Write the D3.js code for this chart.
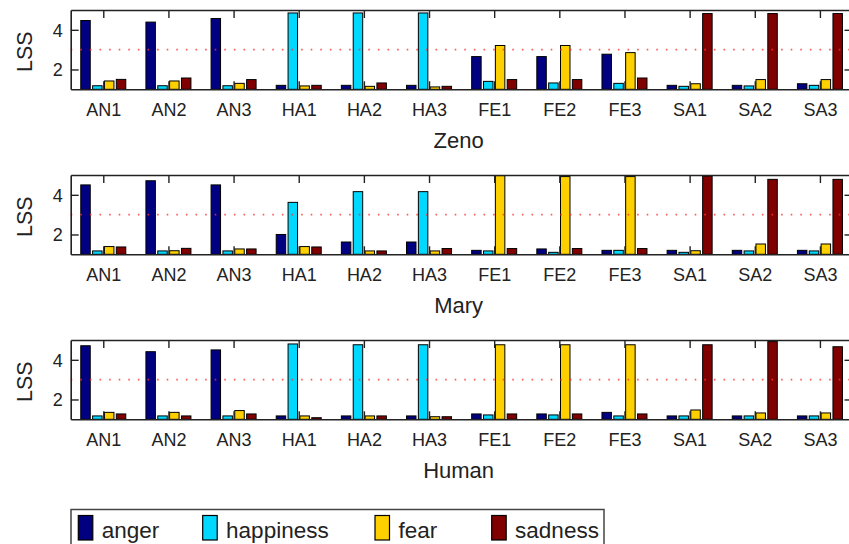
<!DOCTYPE html>
<html><head><meta charset="utf-8">
<script src="https://cdn.jsdelivr.net/npm/d3@7"></script>
<style>body{margin:0;background:#fff;overflow:hidden}svg{display:block}</style>
</head><body>
<svg id="chart" width="849" height="544"></svg>
<script>
const categories = ["AN1","AN2","AN3","HA1","HA2","HA3","FE1","FE2","FE3","SA1","SA2","SA3"];
const seriesNames = ["anger","happiness","fear","sadness"];
const seriesColors = ["#000080","#00D8FF","#FFD000","#800000"];
const panelNames = ["Zeno","Mary","Human"];
const yTicks = [2,4];
const threshold = 3;

const zenoAnger     = [4.47,4.39,4.57,1.20,1.20,1.20,2.65,2.65,2.77,1.20,1.20,1.28];
const zenoHappiness = [1.18,1.18,1.18,4.85,4.85,4.85,1.40,1.32,1.30,1.15,1.17,1.20];
const zenoFear      = [1.42,1.42,1.30,1.17,1.15,1.12,3.21,3.21,2.85,1.28,1.49,1.49];
const zenoSadness   = [1.50,1.57,1.49,1.20,1.32,1.15,1.49,1.49,1.57,4.82,4.82,4.82];

const maryAnger     = [4.50,4.71,4.50,2.00,1.62,1.62,1.20,1.27,1.20,1.20,1.20,1.20];
const maryHappiness = [1.17,1.17,1.17,3.62,4.16,4.16,1.17,1.10,1.20,1.10,1.17,1.17];
const maryFear      = [1.39,1.18,1.27,1.39,1.17,1.17,4.97,4.92,4.92,1.18,1.52,1.52];
const marySadness   = [1.37,1.30,1.27,1.37,1.17,1.29,1.29,1.29,1.29,4.95,4.78,4.78];

const humanAnger     = [4.71,4.41,4.50,1.17,1.17,1.17,1.27,1.27,1.35,1.17,1.17,1.17];
const humanHappiness = [1.17,1.17,1.17,4.80,4.76,4.76,1.22,1.22,1.17,1.17,1.17,1.17];
const humanFear      = [1.35,1.35,1.44,1.17,1.17,1.13,4.76,4.76,4.76,1.47,1.32,1.32];
const humanSadness   = [1.27,1.17,1.27,1.08,1.17,1.13,1.27,1.27,1.27,4.76,4.92,4.66];

const panels = [
  [zenoAnger, zenoHappiness, zenoFear, zenoSadness],
  [maryAnger, maryHappiness, maryFear, marySadness],
  [humanAnger, humanHappiness, humanFear, humanSadness]
];

const svg = d3.select("#chart");
const font = "Arial, 'Liberation Sans', Helvetica, sans-serif";
const textColor = "#222";
const left = 70.7, right = 852.5;
const panelTops = [10, 175, 340];
const panelH = 79.3;
const x = d3.scaleLinear().domain([0.5, categories.length + 0.5]).range([left, right]);
const nS = seriesNames.length;
const groupW = Math.min(0.8, nS / (nS + 1.5));
const barW = 0.8 * groupW / nS;
const offset = i => -groupW / 2 + (2 * i + 1) * groupW / (2 * nS);
const tickLen = 8;

panels.forEach((series, p) => {
  const top = panelTops[p];
  const y = d3.scaleLinear().domain([1, 5]).range([top + panelH, top]);
  const g = svg.append("g");
  const clipId = "clip" + p;
  svg.append("clipPath").attr("id", clipId).append("rect")
    .attr("x", left).attr("y", top).attr("width", right - left).attr("height", panelH);

  const bars = g.append("g").attr("clip-path", `url(#${clipId})`);
  series.forEach((vals, s) => {
    bars.selectAll(null).data(vals).enter().append("rect")
      .attr("x", (d, i) => x(i + 1 + offset(s) - barW / 2))
      .attr("width", x(barW) - x(0))
      .attr("y", d => y(d))
      .attr("height", d => y(1) - y(d))
      .attr("fill", seriesColors[s])
      .attr("stroke", "#000").attr("stroke-width", 1);
  });

  g.append("line")
    .attr("x1", left).attr("x2", right)
    .attr("y1", y(threshold)).attr("y2", y(threshold))
    .attr("stroke", "#ff3030").attr("stroke-opacity", 0.8).attr("stroke-width", 1.6)
    .attr("stroke-dasharray", "1.6,8");

  const xAxisBottom = d3.axisBottom(x).tickValues(d3.range(1, categories.length + 1))
    .tickFormat(d => categories[d - 1]).tickSizeInner(-tickLen).tickSizeOuter(0).tickPadding(13.5);
  const xAxisTop = d3.axisTop(x).tickValues(d3.range(1, categories.length + 1))
    .tickFormat("").tickSizeInner(-tickLen).tickSizeOuter(0);
  const yAxisLeft = d3.axisLeft(y).tickValues(yTicks).tickFormat(d3.format("d"))
    .tickSizeInner(-tickLen).tickSizeOuter(0).tickPadding(8);
  const yAxisRight = d3.axisRight(y).tickValues(yTicks).tickFormat("")
    .tickSizeInner(-tickLen).tickSizeOuter(0);

  const ax = [
    g.append("g").attr("transform", `translate(0,${y(1)})`).call(xAxisBottom),
    g.append("g").attr("transform", `translate(0,${top})`).call(xAxisTop),
    g.append("g").attr("transform", `translate(${left},0)`).call(yAxisLeft),
    g.append("g").attr("transform", `translate(${right},0)`).call(yAxisRight)
  ];
  ax.forEach(a => {
    a.select(".domain").attr("stroke", "#222").attr("stroke-width", 1.6);
    a.selectAll(".tick line").attr("stroke", "#222").attr("stroke-width", 1.4);
    a.selectAll("text").attr("font-family", font).attr("font-size", 18).attr("fill", textColor);
  });
  ax[0].selectAll("text").attr("dy", "0.71em");
  ax[2].selectAll("text").attr("dy", "0.35em");

  g.append("text").attr("x", (left + right) / 2 - 3).attr("y", top + 137.5)
    .attr("text-anchor", "middle").attr("font-family", font).attr("font-size", 22)
    .attr("fill", textColor).text(panelNames[p]);

  g.append("text").attr("transform", `translate(32,${y(3) + 2}) rotate(-90)`)
    .attr("text-anchor", "middle").attr("font-family", font).attr("font-size", 21.5)
    .attr("fill", textColor).text("LSS");
});

const leg = svg.append("g");
leg.append("rect").attr("x", 71).attr("y", 509.5).attr("width", 533).attr("height", 45)
  .attr("fill", "#fff").attr("stroke", "#444").attr("stroke-width", 1.5);
const legX = [78.3, 202.7, 375, 491.7];
seriesNames.forEach((name, i) => {
  leg.append("rect").attr("x", legX[i]).attr("y", 515.5).attr("width", 14.5).attr("height", 24.5)
    .attr("fill", seriesColors[i]).attr("stroke", "#000").attr("stroke-width", 1.2);
  leg.append("text").attr("x", legX[i] + 23.4).attr("y", 538)
    .attr("font-family", font).attr("font-size", 22.5).attr("fill", textColor).text(name);
});
</script>
</body></html>
